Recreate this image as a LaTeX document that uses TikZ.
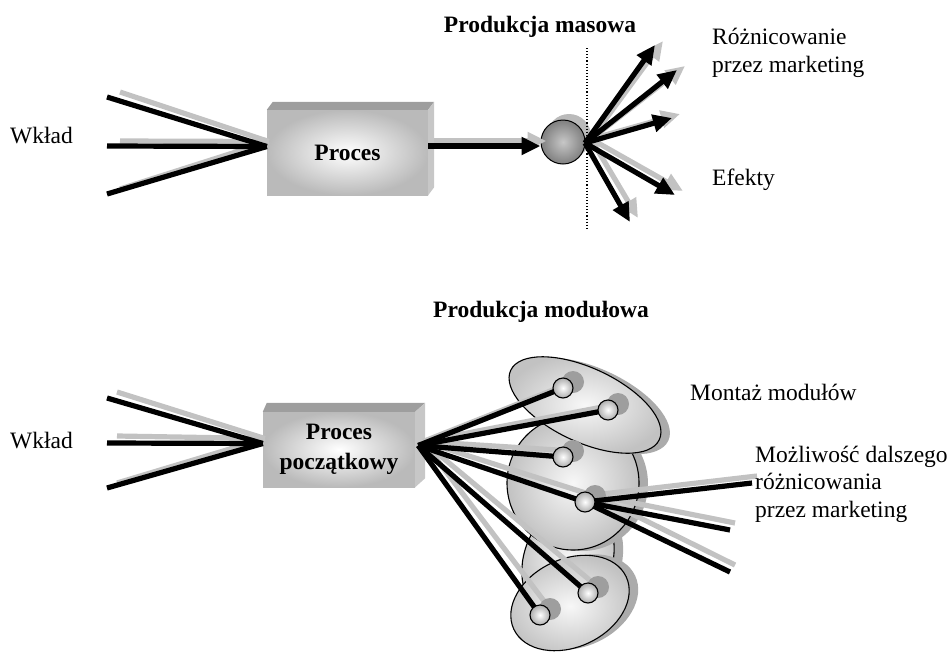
\documentclass[tikz,border=0pt]{standalone}
\usepackage{fontspec}
\setmainfont{Liberation Serif}
\usetikzlibrary{arrows.meta,calc}

\tikzset{
  txt/.style={font=\fontsize{23.5}{27.5}\selectfont, anchor=base west, inner sep=0pt, align=left},
  heading/.style={font=\bfseries\fontsize{23.5}{28}\selectfont, anchor=base, inner sep=0pt},
  wire/.style={line width=5.2pt, black},
  wireshadow/.style={line width=5.2pt, black!24},
  arr/.style={wire, -{Triangle[length=19pt,width=17pt]}},
  arrshadow/.style={wireshadow, -{Triangle[length=19pt,width=17pt]}},
  face/.style={rectangle, inner sep=0pt, inner color=white, outer color=black!27,
    font=\bfseries\fontsize{23.5}{30}\selectfont, align=center},
  bevtop/.style={fill=black!38},
  bevside/.style={fill=black!22},
  module/.style={draw=black, line width=1.1pt, inner color=black!3, outer color=black!24},
  modshadow/.style={fill=black!33},
  joint/.style={circle, minimum size=20pt, inner sep=0pt, draw=black, line width=1.1pt,
    inner color=white, outer color=black!32},
  jointshadow/.style={circle, minimum size=22pt, inner sep=0pt, fill=black!38},
}

\begin{document}
\begin{tikzpicture}[x=1pt,y=-1pt]
\useasboundingbox (0,0) rectangle (951,654);

% ---------------- mass production ----------------
\node[heading] (titleA) at (540,32) {Produkcja masowa};
\node[txt] (inA) at (10,143) {Wkład};

\coordinate (in1a) at (107,97);
\coordinate (in1b) at (107,146);
\coordinate (in1c) at (107,194);

% process box (front face + bevel)
\node[face, minimum width=161pt, minimum height=85pt] (box1) at (347.5,152.5) {Proces};
\fill[bevtop] (box1.north west) -- ++(6,-8) -- ($(box1.north east)+(6,-8)$) -- (box1.north east) -- cycle;
\fill[bevside] (box1.north east) -- ++(6,-8) -- ($(box1.south east)+(6,-8)$) -- (box1.south east) -- cycle;
\coordinate (j1) at ($(box1.west)+(0,-6)$);

% inputs
\draw[wireshadow] ($(in1a)+(13,-5)$) -- ($(j1)+(2,-5)$);
\draw[wireshadow] ($(in1b)+(13,-5)$) -- ($(j1)+(2,-5)$);
\draw[wireshadow] ($(in1c)+(13,-5)$) -- ($(j1)+(2,-5)$);
\draw[wire] (in1a) -- (j1);
\draw[wire] (in1b) -- (j1);
\draw[wire] (in1c) -- (j1);

% the product
\coordinate (cutT) at (587,48);
\coordinate (cutB) at (587,230);
\fill[black!27] (569,136) circle [radius=22];
\node[circle, minimum size=44pt, inner sep=0pt, draw=black, line width=1pt,
      inner color=black!22, outer color=black!50] (mass) at (563,142) {};
\draw[dotted, line width=1.1pt] (cutT) -- (cutB);

\coordinate (o1) at ($(box1.east)+(0,-6.5)$);
\coordinate (m1) at ($(mass.west)+(0,4)$);
\draw[arrshadow] ($(o1)+(6,-5)$) -- ($(m1)+(6,-5)$);
\draw[arr] (o1) -- (m1);

% marketing differentiation
\coordinate (f) at (585,143);
\coordinate (t1) at (655,45);
\coordinate (t2) at (677,70);
\coordinate (t3) at (672,118);
\coordinate (t4) at (675,195);
\coordinate (t5) at (630,222);
\foreach \t in {t1,t2,t3,t4,t5}
  \draw[arrshadow] ($(f)+(6,-4)$) -- ($(\t)+(8,-4)$);
\foreach \t in {t1,t2,t3,t4,t5}
  \draw[arr] (f) -- (\t);

\node[txt] (diffA) at (712,72) {Różnicowanie\\przez marketing};
\node[txt] (outA) at (712,185) {Efekty};

% ---------------- modular production ----------------
\node[heading] (titleB) at (541,317) {Produkcja modułowa};
\node[txt] (inB) at (10,448) {Wkład};

\coordinate (in2a) at (107,398);
\coordinate (in2b) at (107,443);
\coordinate (in2c) at (107,488);

\node[face, minimum width=152pt, minimum height=75pt] (box2) at (339,449.5) {Proces\\początkowy};
\fill[bevtop] (box2.north west) -- ++(4,-9) -- ($(box2.north east)+(10,-9)$) -- (box2.north east) -- cycle;
\fill[bevside] (box2.north east) -- ++(10,-9) -- ($(box2.south east)+(10,-9)$) -- (box2.south east) -- cycle;
\coordinate (j2) at ($(box2.west)+(0,-6)$);
\coordinate (hub) at ($(box2.east)+(3,-4)$);

\draw[wireshadow] ($(in2a)+(10,-6)$) -- ($(j2)+(2,-5)$);
\draw[wireshadow] ($(in2b)+(10,-7)$) -- ($(j2)+(2,-5)$);
\draw[wireshadow] ($(in2c)+(10,-5)$) -- ($(j2)+(2,-5)$);
\draw[wire] (in2a) -- (j2);
\draw[wire] (in2b) -- (j2);
\draw[wire] (in2c) -- (j2);

% module groups
\coordinate (e0) at (568,560);
\coordinate (e1) at (585,405);
\coordinate (e2) at (573,483);
\coordinate (e3) at (570,603);
\begin{scope}[shift={($(e0)+(9,1)$)}, rotate=-20]
  \fill[modshadow] (0,0) ellipse [x radius=44, y radius=60];
\end{scope}
\begin{scope}[shift={(e0)}, rotate=-20]
  \path[module] (0,0) ellipse [x radius=44, y radius=60];
\end{scope}
\fill[modshadow] ($(e2)+(9,1)$) ellipse [x radius=66, y radius=67];
\path[module] (e2) ellipse [x radius=66, y radius=67];
\begin{scope}[shift={($(e1)+(9,1)$)}, rotate=-25]
  \fill[modshadow] (0,0) ellipse [x radius=82, y radius=37];
\end{scope}
\begin{scope}[shift={(e1)}, rotate=-25]
  \path[module] (0,0) ellipse [x radius=82, y radius=37];
\end{scope}
\begin{scope}[shift={($(e3)+(9,-1)$)}, rotate=25]
  \fill[modshadow] (0,0) ellipse [x radius=62, y radius=44];
\end{scope}
\begin{scope}[shift={(e3)}, rotate=25]
  \path[module] (0,0) ellipse [x radius=62, y radius=44];
\end{scope}

% module joints
\coordinate (c1) at (563,388);
\coordinate (c2) at (608,410);
\coordinate (c3) at (563,457);
\coordinate (c4) at (585,502);
\coordinate (c5) at (588,593);
\coordinate (c6) at (540,615);

\coordinate (r1) at (752,483);
\coordinate (r2) at (730,530);
\coordinate (r3) at (730,572);

\foreach \c in {c1,c2,c3,c4,c5,c6}
  \draw[wireshadow] ($(hub)+(5,-4)$) -- ($(\c)+(10,-6)$);
\foreach \r in {r1,r2,r3}
  \draw[wireshadow] ($(c4)+(9,-7)$) -- ($(\r)+(5,-7)$);
\foreach \c in {c1,c2,c3,c4,c5,c6}
  \node[jointshadow] (s\c) at ($(\c)+(10,-6)$) {};
\foreach \c in {c1,c2,c3,c4,c5,c6}
  \draw[wire] (hub) -- (\c);
\foreach \r in {r1,r2,r3}
  \draw[wire] (c4) -- (\r);
\foreach \c in {c1,c2,c3,c4,c5,c6}
  \node[joint] (n\c) at (\c) {};

\node[txt] (assembly) at (690,400) {Montaż modułów};
\node[txt] (diffB) at (755,517) {Możliwość dalszego\\różnicowania\\przez marketing};

\end{tikzpicture}
\end{document}
